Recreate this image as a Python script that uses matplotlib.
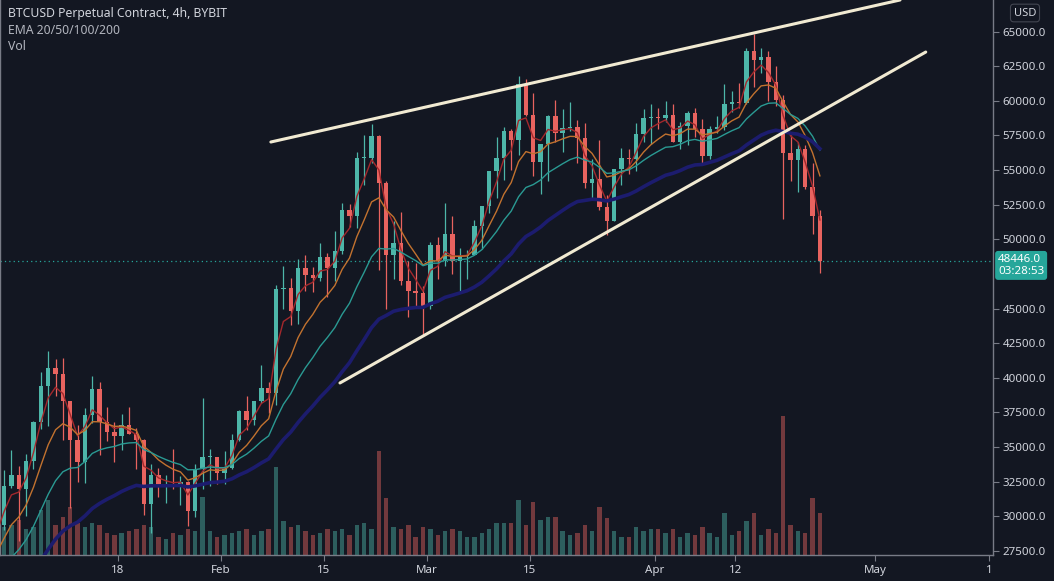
import numpy as np
import pandas as pd
import matplotlib
matplotlib.use("Agg")
import matplotlib.pyplot as plt
from matplotlib.transforms import blended_transform_factory, offset_copy

# daily candles, first row is 2020-12-01
# x is counted in days from 2021-01-01 (so Dec 1 is day -31)
first_day = -31

opens = [
    # Dec
    19700, 18770, 19220, 19440, 18700, 19160, 19380, 19180, 18330, 18550,
    18250, 18040, 18800, 19170, 19280, 19440, 21380, 22820, 23140, 23860,
    23480, 22740, 23820, 23250, 23730, 24710, 26490, 26280, 27080, 27360, 28880,
    # Jan
    28990, 29380, 32200, 33000, 31980, 34000, 36800, 39400, 40700, 40250,
    38300, 35500, 33900, 37300, 39150, 36800, 36100, 35800, 36600, 35900,
    35500, 30850, 32950, 32100, 32300, 32250, 32500, 30400, 33400, 34250, 34300,
    # Feb
    33100, 33500, 35500, 37600, 36950, 38300, 39250, 38900, 46400, 46500,
    44850, 47950, 47400, 47200, 48700, 47950, 49150, 52150, 51650, 55900,
    55900, 57450, 54100, 48900, 49700, 47000, 46300, 46100,
    # Mar
    45200, 49600, 48400, 50400, 48400, 48800, 48900, 50950, 52400, 54900,
    55850, 57800, 57200, 61200, 59000, 55600, 56900, 58900, 57650, 58050,
    58100, 57350, 54100, 54350, 52300, 51300, 55050, 55850, 55800, 57600, 58800,
    # Apr
    58800, 58750, 58950, 57050, 58200, 59150, 57950, 56000, 58000, 58100,
    59800, 59950, 59850, 63600, 62950, 63200, 61400, 60050, 56250, 55700,
    56500, 53800, 51700,
]
highs = [
    19920, 19320, 19560, 19520, 19180, 19400, 19420, 19300, 18650, 18560,
    18280, 18950, 19410, 19350, 19570, 21560, 23800, 23280, 24170, 24280,
    24100, 23830, 24100, 23780, 24790, 26870, 28400, 27400, 27400, 28990, 29300,
    29600, 33300, 34800, 33600, 34500, 36900, 40400, 41950, 41350, 41400,
    38300, 36600, 37800, 40100, 39700, 37900, 36800, 37400, 37850, 36400,
    35600, 33800, 33450, 32950, 34850, 32900, 32550, 33800, 38500, 34850, 34300,
    34700, 35900, 37650, 38650, 38300, 40900, 39700, 46700, 48100, 47200,
    48600, 48900, 48000, 49700, 49000, 50600, 52600, 52550, 56300, 57500,
    58350, 57500, 54200, 51300, 52000, 48400, 48300, 46600,
    49800, 50200, 52600, 51700, 49400, 49200, 51400, 52400, 54900, 57400,
    58100, 58000, 61800, 61600, 60600, 56900, 58950, 60100, 59400, 59900,
    58600, 58400, 55800, 57200, 53200, 55100, 56600, 56500, 58400, 59400, 59800,
    59500, 60000, 59800, 58500, 59250, 59500, 58700, 58200, 58900, 61200,
    60700, 61300, 63800, 64850, 63800, 63600, 62500, 60400, 57500, 57000,
    56800, 55500, 52100,
]
lows = [
    18320, 18340, 18920, 18580, 18510, 18920, 18910, 18200, 17650, 17920,
    17580, 18020, 18720, 19000, 19060, 19300, 21240, 22350, 22800, 23070,
    22000, 22370, 22700, 22700, 23440, 24520, 25800, 26100, 25880, 27320, 28000,
    28800, 29000, 32000, 28200, 30000, 33400, 36300, 36500, 38700, 35500,
    30600, 32500, 32400, 36700, 34400, 35400, 33900, 34800, 35900, 33400,
    30100, 28800, 31400, 30950, 31950, 30800, 29250, 29900, 31950, 32200, 32300,
    32300, 33400, 35400, 36200, 36600, 38150, 37450, 38000, 45000, 43800,
    43900, 46300, 46200, 47000, 45800, 47000, 48950, 50900, 50800, 53900,
    55500, 47800, 45000, 47100, 46700, 44400, 45200, 43000,
    45000, 47100, 48100, 47500, 46300, 47100, 48900, 49300, 51900, 53000,
    54300, 55000, 56100, 58900, 54600, 53300, 54200, 57000, 56300, 57800,
    55500, 53700, 53000, 52100, 50300, 51300, 53900, 54700, 54900, 57000, 56900,
    57950, 58500, 57000, 56500, 56800, 57400, 55500, 55800, 57700, 57900,
    59200, 59500, 59800, 61000, 62000, 60000, 59600, 51500, 54200, 53400,
    53600, 50400, 47600,
]
closes = [
    18770, 19220, 19440, 18700, 19160, 19380, 19180, 18330, 18550, 18250,
    18040, 18800, 19170, 19280, 19440, 21380, 22820, 23140, 23860, 23480,
    22740, 23820, 23250, 23730, 24710, 26490, 26280, 27080, 27360, 28880, 28990,
    29380, 32200, 33000, 31980, 34000, 36800, 39400, 40700, 40250, 38300,
    35500, 33900, 37300, 39150, 36800, 36100, 35800, 36600, 35900, 35500,
    30850, 32950, 32100, 32300, 32250, 32500, 30400, 33400, 34250, 34300, 33100,
    33500, 35500, 37600, 36950, 38300, 39250, 38900, 46400, 46500, 44850,
    47950, 47400, 47200, 48700, 47950, 49150, 52150, 51650, 55900, 55900,
    57450, 54100, 48900, 49700, 47000, 46300, 46100, 45200,
    49600, 48400, 50400, 48400, 48800, 48900, 50950, 52400, 54900, 55850,
    57800, 57200, 61200, 59000, 55600, 56900, 58900, 57650, 58050, 58100,
    57350, 54100, 54350, 52300, 51300, 55050, 55850, 55800, 57600, 58800, 58800,
    58750, 58950, 57050, 58200, 59150, 57950, 56000, 58000, 58100, 59800,
    59950, 59850, 63600, 62950, 63200, 61400, 60050, 56250, 55700, 56500,
    53800, 51700, 48446,
]

# volume (bar heights as read, arbitrary units), one per day from 2021-01-02
vol_first_day = 1
volume = [
    2.8, 3.0, 3.5, 2.6, 2.8, 4.5, 5.5, 3.0, 3.8, 4.8,
    3.2, 2.8, 3.2, 3.0, 2.2, 2.0, 2.2, 2.4, 2.6, 3.0,
    2.8, 1.8, 1.6, 2.2, 2.0, 2.6, 2.4, 5.8, 2.4, 1.8,
    2.0, 2.2, 2.4, 2.6, 2.0, 2.4, 2.6, 8.8, 3.4, 2.8,
    3.0, 2.4, 2.0, 2.2, 2.6, 2.4, 2.6, 2.0, 3.0, 3.2,
    2.6, 10.4, 5.7, 2.8, 2.6, 3.0, 1.8, 2.8,
    2.6, 2.0, 2.4, 2.6, 2.4, 1.8, 1.8, 2.2, 2.6, 3.2,
    3.2, 3.2, 5.5, 3.0, 5.3, 3.5, 3.8, 3.8, 2.4, 2.0,
    2.2, 3.0, 2.4, 4.8, 3.7, 2.4, 1.8, 1.8, 2.8, 2.4, 2.6,
    2.6, 2.2, 2.6, 1.8, 2.2, 2.0, 2.8, 2.2, 1.8, 4.2,
    2.0, 2.4, 3.4, 4.2, 2.0, 2.6, 2.2, 13.9, 3.0, 2.4,
    2.2, 5.7, 4.2,
]

ema_periods = [20, 50, 100, 200]  # in 4h bars
ema_colors = ["#a3282c", "#c2722f", "#2a9a93", "#1c1c6e"]
ema_widths = [1.0, 1.0, 1.0, 2.6]

# trendlines drawn on the chart: (day, price) end points
upper_line_days = [37.8, 123.4]
upper_line_prices = [57030, 67290]
lower_line_days = [47.2, 126.9]
lower_line_prices = [39620, 63530]

last_price = 48446.0
countdown = "03:28:53"

date_tick_days = [17, 31, 45, 59, 73, 90, 101, 120, 135.5]
date_tick_labels = ["18", "Feb", "15", "Mar", "15", "Apr", "12", "May", "1"]
price_ticks = [27500, 30000, 32500, 35000, 37500, 40000, 42500, 45000,
               50000, 52500, 55000, 57500, 60000, 62500, 65000]

bg = "#131722"
up_col = "#4db6a9"
down_col = "#e8635f"
text_col = "#d1d4dc"
axis_col = "#787b86"

plt.rcParams["font.family"] = ["Noto Sans", "DejaVu Sans"]

days = first_day + np.arange(len(closes)) + 0.5
o = np.array(opens, float)
h = np.array(highs, float)
l = np.array(lows, float)
c = np.array(closes, float)
is_up = c >= o

fig = plt.figure(figsize=(10.54, 5.81), dpi=100, facecolor=bg)
rect = [0, 26 / 581, 993 / 1054, 555 / 581]

# volume pane behind the prices
ax_v = fig.add_axes(rect)
ax_v.set_facecolor(bg)
for s in ax_v.spines.values():
    s.set_visible(False)
ax_v.tick_params(left=False, labelleft=False, bottom=False, labelbottom=False)
vol_days = vol_first_day + np.arange(len(volume)) + 0.5
vol_up = is_up[vol_first_day - first_day:vol_first_day - first_day + len(volume)]
ax_v.bar(vol_days, volume, width=0.6,
         color=[up_col if u else down_col for u in vol_up], alpha=0.45, linewidth=0)
ax_v.set_ylim(0, 55.5)

ax = fig.add_axes(rect, sharex=ax_v)
ax.set_facecolor("none")

# candles
cols = [up_col if u else down_col for u in is_up]
ax.vlines(days, l, h, colors=cols, linewidth=0.9, zorder=2)
ax.bar(days, np.maximum(np.abs(c - o), 60), bottom=np.minimum(o, c), width=0.6,
       color=cols, linewidth=0, zorder=2)

# EMAs of the 4h periods, converted to daily steps
for n, col, lw in zip(ema_periods, ema_colors, ema_widths):
    alpha = 1 - (1 - 2 / (n + 1)) ** 6
    ema = pd.Series(c).ewm(alpha=alpha, adjust=False).mean()
    ax.plot(days, ema, color=col, linewidth=lw, zorder=3)

# trendlines
ax.plot(upper_line_days, upper_line_prices, color="#f1ead2", linewidth=2.2,
        solid_capstyle="round", zorder=5)
ax.plot(lower_line_days, lower_line_prices, color="#f1ead2", linewidth=2.2,
        solid_capstyle="round", zorder=5)

# last price line and label
ax.axhline(last_price, color="#26a69a", linewidth=0.9, linestyle=(0, (1, 2.5)), zorder=1)
tr = offset_copy(blended_transform_factory(ax.transAxes, ax.transData), fig=fig,
                 x=5, y=7, units="dots")
ax.text(1.0, last_price, f"{last_price:.1f}\n{countdown}", transform=tr,
        ha="left", va="top", fontsize=8.3, color="white", linespacing=1.15,
        clip_on=False, zorder=10,
        bbox=dict(boxstyle="round,pad=0.25", fc="#26a69a", ec="none"))

ax.set_xlim(0.946, 136.05)
ax.set_ylim(27190, 67290)

ax.yaxis.tick_right()
ax.set_yticks(price_ticks)
ax.set_yticklabels([f"{p:.1f}" for p in price_ticks])
ax.set_xticks(date_tick_days)
ax.set_xticklabels(date_tick_labels)
ax.tick_params(axis="y", colors=axis_col, labelcolor=text_col, labelsize=8.3,
               length=4, width=0.8, pad=3)
ax.tick_params(axis="x", colors=axis_col, labelcolor=text_col, labelsize=8.3,
               length=4, width=0.8, pad=3)
for lab in ax.get_xticklabels():
    if lab.get_text() in ("Feb", "Mar", "Apr", "May"):
        lab.set_fontweight("bold")
ax.spines["top"].set_visible(False)
for side in ["right", "bottom", "left"]:
    ax.spines[side].set_color(axis_col)
    ax.spines[side].set_linewidth(1.0)

# header texts
fig.text(8 / 1054, 1 - 14 / 581, "BTCUSD Perpetual Contract, 4h, BYBIT",
         fontsize=8.8, color=text_col, va="center", fontweight="semibold")
fig.text(8 / 1054, 1 - 30 / 581, "EMA 20/50/100/200", fontsize=8.8,
         color="#b2b5be", va="center")
fig.text(8 / 1054, 1 - 46 / 581, "Vol", fontsize=8.8, color="#b2b5be", va="center")
fig.text(1025 / 1054, 1 - 13 / 581, "USD", fontsize=8, color=text_col,
         ha="center", va="center",
         bbox=dict(boxstyle="round,pad=0.3", fc=bg, ec="#434651", lw=0.8))

fig.savefig("out.png", dpi=100, facecolor=bg)
